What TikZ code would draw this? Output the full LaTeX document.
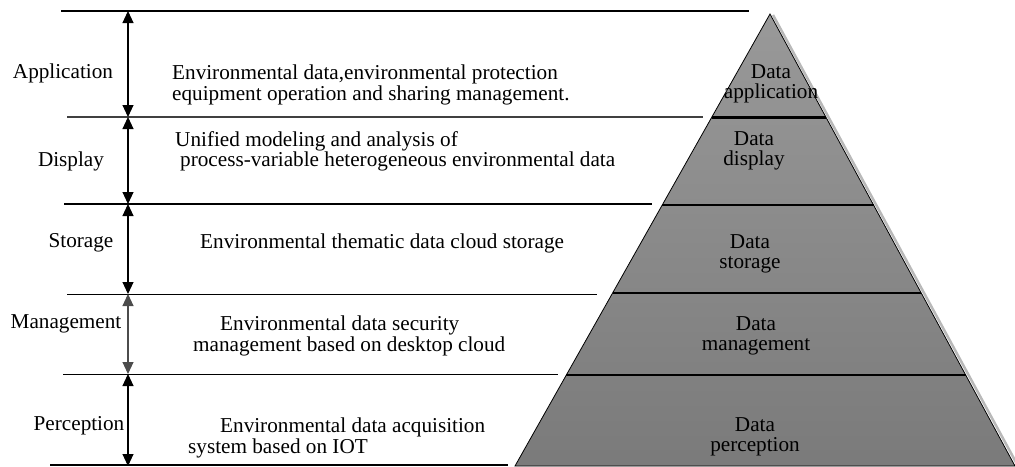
\documentclass[tikz,border=0pt]{standalone}
\usepackage{fontspec}
\setmainfont{Liberation Serif}
\usepackage{tikz}
\usetikzlibrary{calc,arrows.meta}
\usetikzlibrary{positioning}

\tikzset{
    txt/.style={font=\fontsize{21.2}{20.5}\selectfont, inner sep=0pt},
    layerline/.style={line width=1.3pt},
    span/.style={line width=1.1pt, {Triangle[width=11pt,length=12pt]}-{Triangle[width=11pt,length=12pt]}},
}

\begin{document}
\begin{tikzpicture}[x=1pt,y=-1pt]
    \useasboundingbox (0,0) rectangle (1015,466);

    % pyramid
    \coordinate (apex) at (770,14);
    \coordinate (bl) at (515,466);
    \coordinate (br) at (1015,466);
    \draw[gray!55, line width=2.5pt] ($(apex)+(3,1)$) -- ($(br)+(3,0)$);
    \shade[top color=black!40, bottom color=black!52, draw=black, line width=0.8pt]
        (apex) -- (bl) -- (br) -- cycle;
    \draw[line width=3pt] ($(apex)!0.228!(bl)$) -- ($(apex)!0.228!(br)$);
    \draw[line width=1.6pt] ($(apex)!0.4226!(bl)$) -- ($(apex)!0.4226!(br)$);
    \draw[line width=1.6pt] ($(apex)!0.617!(bl)$) -- ($(apex)!0.617!(br)$);
    \draw[line width=1.6pt] ($(apex)!0.7987!(bl)$) -- ($(apex)!0.7987!(br)$);

    % horizontal lines
    \draw[line width=1.8pt] (61,11) -- (749,11);
    \draw[layerline, black!75] (67,117) -- (703,117);
    \draw[layerline] (64,204) -- (652,204);
    \draw[layerline, line width=1pt] (67,294) -- (597,294);
    \draw[layerline, line width=1pt] (63,374) -- (558,374);
    \draw[line width=1.8pt] (50,465) -- (508,465);

    % vertical arrows
    \coordinate (b0) at (128,11);
    \coordinate (b1) at (128,117);
    \coordinate (b2) at (128,204);
    \coordinate (b3) at (128,294);
    \coordinate (b4) at (128,374);
    \coordinate (b5) at (128,466);
    \draw[span] (b0) -- (b1);
    \draw[span] (b1) -- (b2);
    \draw[span] (b2) -- (b3);
    \draw[span, black!70] (b3) -- (b4);
    \draw[span] (b4) -- (b5);

    % left labels
    \node[txt] (app) at (63,73) {Application};
    \node[txt] (disp) at (71,161) {Display};
    \node[txt] (stor) at (81,243) {Storage};
    \node[txt] (mgmt) at (66,324) {Management};
    \node[txt] (perc) at (79,426) {Perception};

    % descriptions
    \node[txt, align=left, anchor=north west] (appdesc) at (172,65)
        {Environmental data,environmental protection\\equipment operation and sharing management.};
    \node[txt, align=left, anchor=north west] (dispdesc) at (175,131)
        {Unified modeling and analysis of\\\hspace*{5pt}process-variable heterogeneous environmental data};
    \node[txt, anchor=west] (stordesc) at (200,243) {Environmental thematic data cloud storage};
    \node[txt, align=left, anchor=north west] (mgmtdesc) at (193,316)
        {\hspace*{27pt}Environmental data security\\management based on desktop cloud};
    \node[txt, align=left, anchor=north west] (percdesc) at (188,418)
        {\hspace*{32pt}Environmental data acquisition\\system based on IOT};

    % pyramid labels
    \node[txt, align=center] (dapp) at (771,84) {Data\\application};
    \node[txt, align=center] (ddisp) at (754,151) {Data\\display};
    \node[txt, align=center] (dstor) at (750,254) {Data\\storage};
    \node[txt, align=center] (dmgmt) at (756,336) {Data\\management};
    \node[txt, align=center] (dperc) at (755,437) {Data\\perception};
\end{tikzpicture}
\end{document}
